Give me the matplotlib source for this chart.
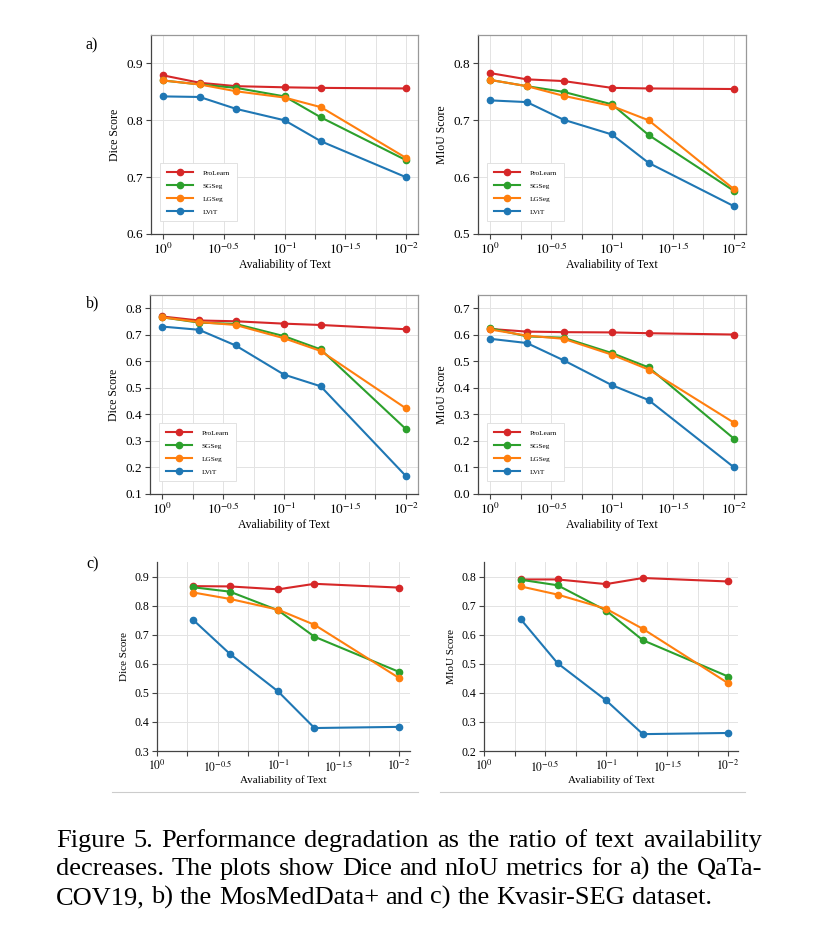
import matplotlib
matplotlib.use("Agg")
import matplotlib.pyplot as plt
from matplotlib.ticker import FixedLocator, FuncFormatter
from matplotlib.lines import Line2D

plt.rcParams['font.family'] = ['Liberation Serif', 'DejaVu Serif']
plt.rcParams['mathtext.fontset'] = 'stix'

# text availability ratios
avail = [1.0, 0.5, 0.25, 0.1, 0.05, 0.01]
avail_c = [0.5, 0.25, 0.1, 0.05, 0.01]
methods = ['ProLearn', 'SGSeg', 'LGSeg', 'LViT']
colors = ['#d62728', '#2ca02c', '#ff7f0e', '#1f77b4']

# a) QaTa-COV19
a_dice = {
    'ProLearn': [0.879, 0.866, 0.860, 0.858, 0.857, 0.856],
    'SGSeg':    [0.870, 0.863, 0.857, 0.842, 0.805, 0.730],
    'LGSeg':    [0.870, 0.863, 0.851, 0.840, 0.823, 0.734],
    'LViT':     [0.842, 0.841, 0.820, 0.800, 0.763, 0.700],
}
a_miou = {
    'ProLearn': [0.783, 0.772, 0.769, 0.757, 0.756, 0.755],
    'SGSeg':    [0.771, 0.760, 0.750, 0.728, 0.674, 0.576],
    'LGSeg':    [0.771, 0.760, 0.743, 0.725, 0.700, 0.579],
    'LViT':     [0.735, 0.732, 0.701, 0.675, 0.625, 0.549],
}
# b) MosMedData+
b_dice = {
    'ProLearn': [0.769, 0.754, 0.751, 0.742, 0.737, 0.721],
    'SGSeg':    [0.766, 0.746, 0.741, 0.695, 0.645, 0.345],
    'LGSeg':    [0.766, 0.748, 0.737, 0.687, 0.639, 0.423],
    'LViT':     [0.731, 0.719, 0.660, 0.550, 0.506, 0.168],
}
b_miou = {
    'ProLearn': [0.622, 0.612, 0.610, 0.609, 0.606, 0.601],
    'SGSeg':    [0.625, 0.594, 0.589, 0.531, 0.477, 0.209],
    'LGSeg':    [0.620, 0.597, 0.585, 0.525, 0.469, 0.269],
    'LViT':     [0.585, 0.569, 0.504, 0.410, 0.354, 0.101],
}
# c) Kvasir-SEG
c_dice = {
    'ProLearn': [0.867, 0.866, 0.856, 0.875, 0.862],
    'SGSeg':    [0.863, 0.848, 0.784, 0.693, 0.572],
    'LGSeg':    [0.845, 0.823, 0.786, 0.734, 0.551],
    'LViT':     [0.750, 0.634, 0.505, 0.379, 0.383],
}
c_miou = {
    'ProLearn': [0.790, 0.790, 0.774, 0.795, 0.783],
    'SGSeg':    [0.789, 0.770, 0.683, 0.581, 0.456],
    'LGSeg':    [0.766, 0.738, 0.689, 0.620, 0.433],
    'LViT':     [0.653, 0.502, 0.374, 0.258, 0.262],
}

major_exp = [0, -0.5, -1, -1.5, -2]
minor_exp = [-0.25, -0.75, -1.25, -1.75]

W, H = 824, 948
fig = plt.figure(figsize=(W / 100, H / 100), dpi=100)


def box(x0, x1, y0, y1):
    return [x0 / W, 1 - y1 / H, (x1 - x0) / W, (y1 - y0) / H]


def expfmt(v, pos):
    import math
    e = round(math.log10(v), 2)
    if e == int(e):
        return r'$10^{%d}$' % int(e)
    return r'$10^{%g}$' % e


def panel(rect, xs, data, ylim, yticks, ylabel, xlim_exp, legend=True, full_box=True, fs=9.5, lfs=8.5):
    ax = fig.add_axes(box(*rect))
    for m, c in zip(methods, colors):
        ax.plot(xs, data[m], '-o', color=c, lw=1.5, ms=4.5, label=m, zorder=3)
    ax.set_xscale('log')
    ax.set_xlim(10 ** xlim_exp[0], 10 ** xlim_exp[1])
    ax.xaxis.set_major_locator(FixedLocator([10 ** e for e in major_exp]))
    ax.xaxis.set_minor_locator(FixedLocator([10 ** e for e in minor_exp]))
    ax.xaxis.set_major_formatter(FuncFormatter(expfmt))
    ax.xaxis.set_minor_formatter(FuncFormatter(lambda v, p: ''))
    ax.set_ylim(*ylim)
    ax.set_yticks(yticks)
    ax.set_yticklabels(['%.1f' % t for t in yticks])
    ax.grid(True, which='both', color='#e3e3e3', lw=0.7, zorder=0)
    ax.set_axisbelow(True)
    ax.tick_params(which='both', direction='out', length=3.5, width=0.8,
                   color='#444444', labelsize=fs, pad=2)
    for s in ax.spines.values():
        s.set_color('#444444')
        s.set_linewidth(0.9)
    if not full_box:
        ax.spines['top'].set_visible(False)
        ax.spines['right'].set_visible(False)
    else:
        ax.spines['top'].set_color('#999999')
        ax.spines['right'].set_color('#999999')
    ax.set_xlabel('Avaliability of Text', fontsize=lfs, labelpad=1)
    ax.set_ylabel(ylabel, fontsize=lfs, labelpad=4)
    if legend:
        lg = ax.legend(loc='lower left', bbox_to_anchor=(0.035, 0.065), fontsize=5.2,
                       handlelength=3.6, borderpad=0.9, labelspacing=0.95,
                       handletextpad=1.4, fancybox=False, framealpha=1,
                       edgecolor='#dddddd', borderaxespad=0)
        lg.get_frame().set_linewidth(0.6)
    return ax


panel((151, 418, 35, 234), avail, a_dice, (0.6, 0.95), [0.6, 0.7, 0.8, 0.9], 'Dice Score', (0.1, -2.1))
panel((478, 746, 35, 234), avail, a_miou, (0.5, 0.85), [0.5, 0.6, 0.7, 0.8], 'MIoU Score', (0.1, -2.1))
panel((150, 418, 295, 494), avail, b_dice, (0.1, 0.85), [0.1, 0.2, 0.3, 0.4, 0.5, 0.6, 0.7, 0.8], 'Dice Score', (0.1, -2.1))
panel((478, 746, 295, 494), avail, b_miou, (0.0, 0.75), [0.0, 0.1, 0.2, 0.3, 0.4, 0.5, 0.6, 0.7], 'MIoU Score', (0.1, -2.1))
panel((157, 410, 562, 751), avail_c, c_dice, (0.3, 0.95), [0.3, 0.4, 0.5, 0.6, 0.7, 0.8, 0.9], 'Dice Score', (0, -2.09),
      legend=False, full_box=False, fs=8.5, lfs=8)
panel((484, 738, 562, 751), avail_c, c_miou, (0.2, 0.85), [0.2, 0.3, 0.4, 0.5, 0.6, 0.7, 0.8], 'MIoU Score', (0, -2.08),
      legend=False, full_box=False, fs=8.5, lfs=8)

# panel letters
for lbl, y in [('a)', 45), ('b)', 303), ('c)', 564)]:
    fig.text(86 / W, 1 - y / H, lbl, fontsize=11.5, va='center', ha='left')

# separator lines under c)
for x0, x1 in [(112, 418), (440, 745)]:
    fig.add_artist(Line2D([x0 / W, x1 / W], [1 - 792 / H] * 2, color='#cccccc', lw=0.8))

# caption, justified lines
caption = [
    ('Figure 5. Performance degradation as the ratio of text availability', True, 847),
    ('decreases. The plots show Dice and nIoU metrics for a) the QaTa-', True, 875),
    ('COV19, b) the MosMedData+ and c) the Kvasir-SEG dataset.', False, 904),
]
cap_x0, cap_x1, cap_fs = 56, 762, 19.0
fig.canvas.draw()
r = fig.canvas.get_renderer()
t = fig.text(0, 0, 'a a', fontsize=cap_fs)
t2 = fig.text(0, 0, 'aa', fontsize=cap_fs)
space_w = t.get_window_extent(r).width - t2.get_window_extent(r).width
t.remove()
t2.remove()
for line, justify, base in caption:
    words = line.split(' ')
    arts = [fig.text(0, 1 - base / H, w, fontsize=cap_fs, va='baseline', ha='left') for w in words]
    widths = [a.get_window_extent(r).width for a in arts]
    if justify:
        gap = (cap_x1 - cap_x0 - sum(widths)) / (len(words) - 1)
    else:
        gap = space_w
    x = cap_x0
    for a, w in zip(arts, widths):
        a.set_x(x / W)
        x += w + gap

fig.savefig('out.png', dpi=100)
